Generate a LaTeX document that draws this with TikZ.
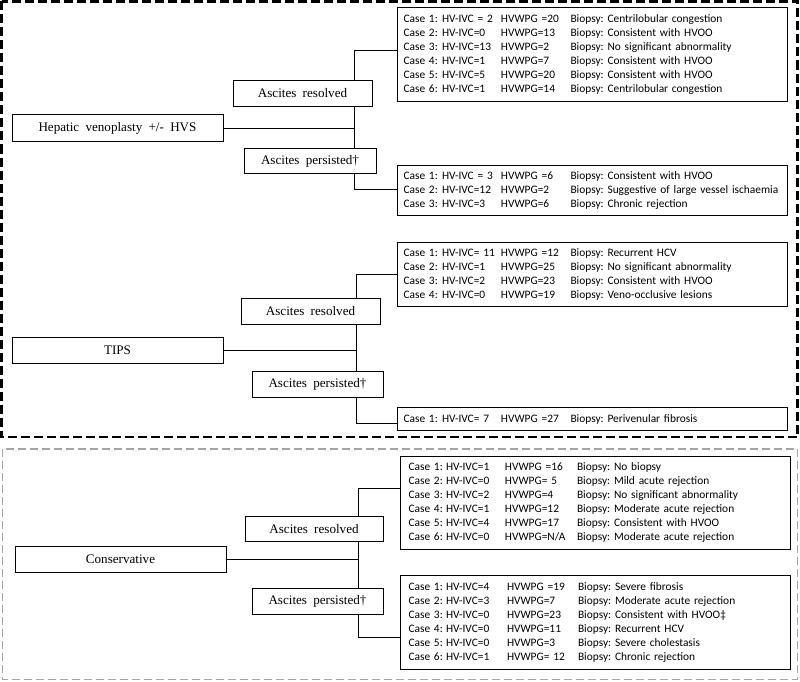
\documentclass[tikz,border=0pt]{standalone}
\usepackage{fontspec}
\setmainfont{Liberation Serif}
\newfontfamily\casefont{Carlito}
\usetikzlibrary{positioning}
\frenchspacing

\newlength{\colA}\newlength{\colB}\newlength{\colC}
\setlength{\colA}{38.5pt}\setlength{\colB}{59pt}\setlength{\colC}{69.5pt}
\newcommand{\crow}[4]{\makebox[\colA][l]{#1}\makebox[\colB][l]{#2}\makebox[\colC][l]{#3}#4}
\newcommand{\lblfont}{\fontsize{13.1}{15}\selectfont\spaceskip=0.48em plus 0.1em\relax}

\tikzset{
	mainbox/.style={draw, line width=1pt, minimum width=211pt, minimum height=26pt, inner sep=0pt, font=\lblfont},
	outcome/.style={draw, fill=white, line width=1pt, minimum height=25.5pt, inner sep=0pt, font=\lblfont},
	casebox/.style={draw, line width=1pt, anchor=north west, text width=378pt, inner xsep=6pt, inner ysep=0pt, minimum width=390pt, align=left, font={\casefont\fontsize{11.4}{14}\selectfont}},
	link/.style={line width=0.8pt},
}

\begin{document}
\begin{tikzpicture}[x=1pt,y=-1pt]
	\useasboundingbox (0,0) rectangle (800,682);
	% frames
	\draw[line width=2.2pt, dash pattern=on 9pt off 4pt] (1.5,1.5) rectangle (797.5,437);
	\draw[line width=1.4pt, gray!70, dash pattern=on 8pt off 4pt] (2.5,449) rectangle (797.5,679.5);

	% hepatic venoplasty
	\node[mainbox] (hvs) at (117.5,128) {Hepatic venoplasty +/- HVS};
	\node[casebox, minimum height=94pt] (hvsRes) at (397,7) {%
		\crow{Case 1:}{HV-IVC = 2}{HVWPG =20}{Biopsy: Centrilobular congestion}\\
		\crow{Case 2:}{HV-IVC=0}{HVWPG=13}{Biopsy: Consistent with HVOO}\\
		\crow{Case 3:}{HV-IVC=13}{HVWPG=2}{Biopsy: No significant abnormality}\\
		\crow{Case 4:}{HV-IVC=1}{HVWPG=7}{Biopsy: Consistent with HVOO}\\
		\crow{Case 5:}{HV-IVC=5}{HVWPG=20}{Biopsy: Consistent with HVOO}\\
		\crow{Case 6:}{HV-IVC=1}{HVWPG=14}{Biopsy: Centrilobular congestion}};
	\node[casebox, minimum height=50pt] (hvsPer) at (397,165) {%
		\crow{Case 1:}{HV-IVC = 3}{HVWPG =6}{Biopsy: Consistent with HVOO}\\
		\crow{Case 2:}{HV-IVC=12}{HVWPG=2}{Biopsy: Suggestive of large vessel ischaemia}\\
		\crow{Case 3:}{HV-IVC=3}{HVWPG=6}{Biopsy: Chronic rejection}};
	\coordinate (hvsA) at (354,50);
	\coordinate (hvsB) at (354,189);
	\draw[link] (hvsA) -- (hvsB);
	\draw[link] (hvs.east) -- (hvs.east -| hvsA);
	\draw[link] (hvsA) -- (hvsA -| hvsRes.west);
	\draw[link] (hvsB) -- (hvsB -| hvsPer.west);
	\node[outcome, minimum width=139pt] (hvsResLbl) at (302.5,93.5) {Ascites resolved};
	\node[outcome, minimum width=132pt] (hvsPerLbl) at (310,161) {Ascites persisted†};

	% TIPS
	\node[mainbox] (tips) at (117.5,350) {TIPS};
	\node[casebox, minimum height=64pt] (tipsRes) at (397,242) {%
		\crow{Case 1:}{HV-IVC= 11}{HVWPG =12}{Biopsy: Recurrent HCV}\\
		\crow{Case 2:}{HV-IVC=1}{HVWPG=25}{Biopsy: No significant abnormality}\\
		\crow{Case 3:}{HV-IVC=2}{HVWPG=23}{Biopsy: Consistent with HVOO}\\
		\crow{Case 4:}{HV-IVC=0}{HVWPG=19}{Biopsy: Veno-occlusive lesions}};
	\node[casebox, minimum height=23pt] (tipsPer) at (397,407) {%
		\crow{Case 1:}{HV-IVC= 7}{HVWPG =27}{Biopsy: Perivenular fibrosis}};
	\coordinate (tipsA) at (356,274);
	\coordinate (tipsB) at (356,423);
	\draw[link] (tipsA) -- (tipsB);
	\draw[link] (tips.east) -- (tips.east -| tipsA);
	\draw[link] (tipsA) -- (tipsA -| tipsRes.west);
	\draw[link] (tipsB) -- (tipsB -| tipsPer.west);
	\node[outcome, minimum width=139pt] (tipsResLbl) at (310.5,311.5) {Ascites resolved};
	\node[outcome, minimum width=131pt] (tipsPerLbl) at (317.5,384.5) {Ascites persisted†};

	% conservative
	\node[mainbox] (cons) at (120.5,559.5) {Conservative};
	\node[casebox, minimum height=93pt, inner xsep=8pt, text width=374pt] (consRes) at (400,456) {%
		\setlength{\colA}{37.5pt}\setlength{\colB}{59pt}\setlength{\colC}{72pt}%
		\crow{Case 1:}{HV-IVC=1}{HVWPG =16}{Biopsy: No biopsy}\\
		\crow{Case 2:}{HV-IVC=0}{HVWPG= 5}{Biopsy: Mild acute rejection}\\
		\crow{Case 3:}{HV-IVC=2}{HVWPG=4}{Biopsy: No significant abnormality}\\
		\crow{Case 4:}{HV-IVC=1}{HVWPG=12}{Biopsy: Moderate acute rejection}\\
		\crow{Case 5:}{HV-IVC=4}{HVWPG=17}{Biopsy: Consistent with HVOO}\\
		\crow{Case 6:}{HV-IVC=0}{HVWPG=N/A}{Biopsy: Moderate acute rejection}};
	\node[casebox, minimum height=94pt, inner xsep=8pt, text width=374pt] (consPer) at (400,575) {%
		\setlength{\colA}{37.5pt}\setlength{\colB}{61pt}\setlength{\colC}{71pt}%
		\crow{Case 1:}{HV-IVC=4}{HVWPG =19}{Biopsy: Severe fibrosis}\\
		\crow{Case 2:}{HV-IVC=3}{HVWPG=7}{Biopsy: Moderate acute rejection}\\
		\crow{Case 3:}{HV-IVC=0}{HVWPG=23}{Biopsy: Consistent with HVOO‡}\\
		\crow{Case 4:}{HV-IVC=0}{HVWPG=11}{Biopsy: Recurrent HCV}\\
		\crow{Case 5:}{HV-IVC=0}{HVWPG=3}{Biopsy: Severe cholestasis}\\
		\crow{Case 6:}{HV-IVC=1}{HVWPG= 12}{Biopsy: Chronic rejection}};
	\coordinate (consA) at (358,488);
	\coordinate (consB) at (358,637);
	\draw[link] (consA) -- (consB);
	\draw[link] (cons.east) -- (cons.east -| consA);
	\draw[link] (consA) -- (consA -| consRes.west);
	\draw[link] (consB) -- (consB -| consPer.west);
	\node[outcome, minimum width=138pt] (consResLbl) at (314,529) {Ascites resolved};
	\node[outcome, minimum width=131pt] (consPerLbl) at (317.5,601.5) {Ascites persisted†};
\end{tikzpicture}
\end{document}
